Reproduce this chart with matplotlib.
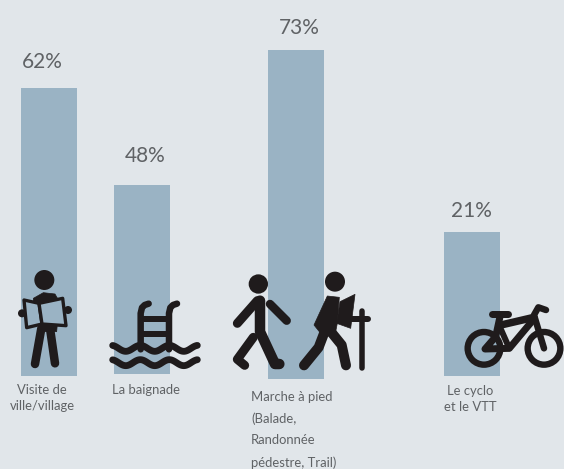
"""Activités pratiquées : bars with pictograms, 564x469."""
import numpy as np
import matplotlib
matplotlib.use('Agg')
import matplotlib.pyplot as plt
from matplotlib.patches import Circle, Polygon

# Data
categories = ['Visite de\nville/village', 'La baignade',
              'Marche à pied\n(Balade,\nRandonnée\npédestre, Trail)',
              'Le cyclo\net le VTT']
percents = [62, 48, 73, 21]
# the bar lengths in the picture are not proportional to the percents
bar_lengths = [288, 189, 329, 144]

# Layout (pixels)
BAR_X = [49, 142, 296, 472]
BAR_BASE = [376, 374, 379, 376]
BAR_W = 56
PCT_X = [42, 145, 299, 471]
PCT_Y = [62, 156, 28, 211]

BG = '#e1e6ea'
BAR = '#9ab3c4'
INK = '#1f1b1c'
TEXT = '#5f6265'


def crop(points, x0, y0):
    """Zoomed crop coordinates (3x) to picture pixels."""
    p = np.asarray(points, dtype=float)
    return p / 3 + [x0, y0]


def stroke(ax, points, x0, y0, px, cap='round'):
    p = crop(points, x0, y0)
    ax.plot(p[:, 0], p[:, 1], color=INK, lw=px * 0.72, solid_capstyle=cap,
            solid_joinstyle='round', zorder=3)


def blob(ax, points, x0, y0, fc=INK, ec=INK, lw=0.5):
    ax.add_patch(Polygon(crop(points, x0, y0), closed=True, fc=fc, ec=ec,
                         lw=lw, joinstyle='round', zorder=3))


def dot(ax, x, y, r, x0, y0, fc=INK, ec='none', lw=0):
    ax.add_patch(Circle((x / 3 + x0, y / 3 + y0), r / 3, fc=fc, ec=ec, lw=lw,
                        zorder=3))


def draw_reader(ax):
    x0, y0 = 0, 260
    dot(ax, 133, 60, 30, x0, y0)
    blob(ax, [(100, 115), (130, 98), (165, 102), (178, 125), (170, 215),
              (125, 215), (100, 140)], x0, y0)
    stroke(ax, [(124, 205), (105, 312)], x0, y0, 8.5)
    stroke(ax, [(150, 205), (165, 310)], x0, y0, 8.5)
    dot(ax, 66, 160, 12, x0, y0)
    dot(ax, 204, 150, 12, x0, y0)
    blob(ax, [(72, 120), (117, 130), (126, 192), (80, 203)], x0, y0,
         fc=BAR, lw=2.4)
    blob(ax, [(117, 130), (188, 115), (198, 197), (126, 192)], x0, y0,
         fc=BAR, lw=2.4)


def draw_pool(ax):
    x0, y0 = 0, 260
    for x in (422, 507):
        stroke(ax, [(x, 268), (x, 160), (x + 4, 143), (x + 12, 135),
                    (x + 24, 131)], x0, y0, 6.5)
    stroke(ax, [(422, 178), (507, 178)], x0, y0, 6, cap='butt')
    stroke(ax, [(422, 222), (507, 222)], x0, y0, 6, cap='butt')
    # wavy water lines of the pictogram
    xs = np.linspace(338, 592, 80)
    for y in (265, 308):
        ys = y - 9 * np.cos((xs - 338) / 87 * 2 * np.pi + 0.3)
        stroke(ax, np.column_stack([xs, ys]), x0, y0, 6.8)


def draw_walker(ax):
    x0, y0 = 220, 260
    dot(ax, 115, 72, 29, x0, y0)
    stroke(ax, [(120, 122), (120, 215), (165, 312), (178, 312)], x0, y0, 10.5)
    stroke(ax, [(112, 122), (52, 190)], x0, y0, 9)
    stroke(ax, [(150, 132), (200, 182)], x0, y0, 8.5)
    stroke(ax, [(100, 232), (52, 298), (74, 316)], x0, y0, 9)


def draw_hiker(ax):
    x0, y0 = 220, 260
    dot(ax, 345, 65, 30, x0, y0)
    blob(ax, [(322, 108), (358, 112), (352, 190), (345, 225), (310, 230),
              (282, 195)], x0, y0)
    stroke(ax, [(314, 215), (296, 262), (252, 316)], x0, y0, 10)
    stroke(ax, [(335, 218), (365, 255), (378, 316)], x0, y0, 10)
    blob(ax, [(360, 125), (405, 103), (392, 205), (350, 190)], x0, y0)
    stroke(ax, [(427, 152), (427, 325)], x0, y0, 5.5)
    stroke(ax, [(392, 178), (445, 178)], x0, y0, 6)


def draw_bike(ax):
    x0, y0 = 430, 280
    for x in (162, 342):
        dot(ax, x, 205, 49, x0, y0, fc='none', ec=INK, lw=4.6)
    stroke(ax, [(186, 103), (235, 103)], x0, y0, 7)
    stroke(ax, [(210, 110), (197, 170), (165, 207), (238, 205), (305, 125)],
           x0, y0, 7)
    stroke(ax, [(213, 135), (312, 112)], x0, y0, 7.5)
    stroke(ax, [(207, 135), (238, 205)], x0, y0, 6)
    stroke(ax, [(342, 205), (312, 105), (325, 82), (348, 90)], x0, y0, 6.5)


fig = plt.figure(figsize=(5.64, 4.69), dpi=100, facecolor=BG)
ax = fig.add_axes([0, 0, 1, 1], facecolor=BG)
ax.set_xlim(0, 564)
ax.set_ylim(469, 0)
ax.axis('off')

ax.bar(BAR_X, -np.array(bar_lengths), bottom=BAR_BASE, width=BAR_W, color=BAR,
       zorder=1)

for x, y, pct in zip(PCT_X, PCT_Y, percents):
    ax.text(x, y, f'{pct}%', ha='center', va='center', color=TEXT,
            fontsize=15, family='Lato')

label_style = dict(color=TEXT, fontsize=9.4, family='Lato', va='top')
ax.text(42, 384, categories[0], ha='center', linespacing=1.4, **label_style)
ax.text(146, 384, categories[1], ha='center', **label_style)
ax.text(251, 391, categories[2], ha='left', linespacing=1.92, **label_style)
ax.text(470, 385, categories[3], ha='center', linespacing=1.4, **label_style)

draw_reader(ax)
draw_pool(ax)
draw_walker(ax)
draw_hiker(ax)
draw_bike(ax)

fig.savefig('out.png', dpi=100, facecolor=BG)
